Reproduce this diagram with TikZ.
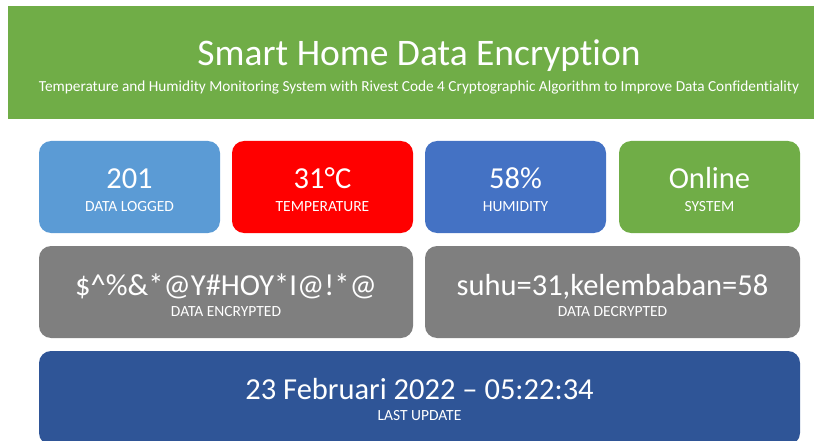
\documentclass[tikz,border=0pt]{standalone}
\usepackage{fontspec}
\setmainfont[Ligatures=NoCommon]{Carlito}
\usepackage{xcolor}
\usetikzlibrary{positioning}

\definecolor{hdrgreen}{HTML}{70AD47}
\definecolor{logblue}{HTML}{5B9BD5}
\definecolor{tempred}{HTML}{FF0000}
\definecolor{humblue}{HTML}{4472C4}
\definecolor{sysgreen}{HTML}{70AD47}
\definecolor{datagray}{HTML}{7F7F7F}
\definecolor{updblue}{HTML}{2F5597}

\begin{document}
\begin{tikzpicture}[x=1pt, y=-1pt,
  tile/.style={rounded corners=12pt, inner sep=0pt, minimum height=92pt},
  val/.style={anchor=base, text=white, inner sep=0pt, font=\fontsize{30.5}{30.5}\selectfont},
  lbl/.style={anchor=base, text=white, inner sep=0pt, font=\fontsize{15.5}{15.5}\selectfont}]
\useasboundingbox (0,0) rectangle (814,441);

%Header
\node[fill=hdrgreen, inner sep=0pt, minimum width=806pt, minimum height=113pt] (header) at (411,62.5) {};
\node[anchor=base, text=white, inner sep=0pt, font=\fontsize{37.5}{37.5}\selectfont] (title) at (419,66) {Smart Home Data Encryption};
\node[anchor=base, text=white, inner sep=0pt, font=\fontsize{15.3}{15.3}\selectfont] (subtitle) at (419,92)
  {Temperature and Humidity Monitoring System with Rivest Code 4 Cryptographic Algorithm to Improve Data Confidentiality};

%Sensor row
\foreach \x/\c/\v/\l [count=\i] in {129.5/logblue/201/DATA LOGGED,
                                   322.5/tempred/31°C/TEMPERATURE,
                                   515.5/humblue/58\%/HUMIDITY,
                                   709.5/sysgreen/Online/SYSTEM} {
  \node[tile, fill=\c, minimum width=181pt] (stat\i) at (\x,187) {};
  \node[val] (stat\i val) at (\x,189) {\v};
  \node[lbl] (stat\i lbl) at (\x,211) {\l};
}

%Cipher row
\node[tile, fill=datagray, minimum width=374pt] (enc) at (226,292) {};
\node[val] (encval) at (226,295) {\$\^{}\%\&*@Y\#HOY*I@!*@};
\node[lbl] (enclbl) at (226,316) {DATA ENCRYPTED};

\node[tile, fill=datagray, minimum width=375pt] (dec) at (612.5,292) {};
\node[val] (decval) at (612.5,295) {suhu=31,kelembaban=58};
\node[lbl] (declbl) at (612.5,316) {DATA DECRYPTED};

%Last update
\node[tile, fill=updblue, minimum width=761pt, minimum height=94pt] (upd) at (419.5,398) {};
\node[val] (updval) at (419.5,399) {23 Februari 2022 -- 05:22:34};
\node[lbl] (updlbl) at (419.5,420) {LAST UPDATE};
\end{tikzpicture}
\end{document}
